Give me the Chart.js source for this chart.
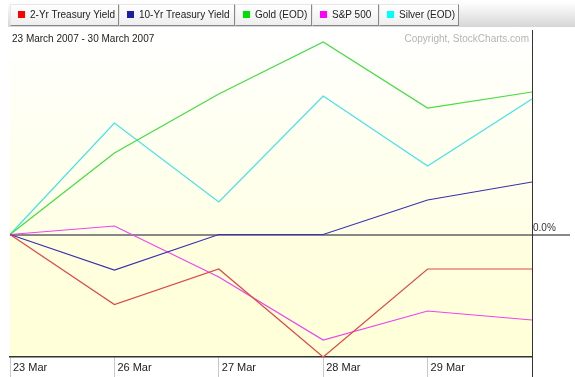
<!DOCTYPE html>
<html>
<head>
<meta charset="utf-8">
<script src="https://cdn.jsdelivr.net/npm/chart.js@4/dist/chart.umd.min.js"></script>
<style>
  body { margin: 0; background: #fff; font-family: Arial, "Liberation Sans", sans-serif; }
  #wrap { position: relative; width: 575px; height: 377px; overflow: hidden; }
  #chart { position: absolute; left: 0; top: 0; }
  #bar { position: absolute; left: 8px; top: 2px; width: 567px; height: 25px;
         background: linear-gradient(to bottom, #ffffff, #d6d6d6); }
  .tab { position: absolute; top: 2px; height: 22px; box-sizing: border-box;
         background: linear-gradient(to bottom, #ffffff, #eeeeee);
         border: 1px solid #e8e8e8; border-right-color: #888; border-bottom-color: #888;
         font-size: 10px; color: #222; line-height: 20px; white-space: nowrap; }
  .tab i { display: inline-block; width: 7px; height: 7px; margin: 0 5px 0 7px; vertical-align: 0px; }
  .note { position: absolute; top: 33px; font-size: 10px; line-height: 12px; white-space: nowrap; }
</style>
</head>
<body>
<div id="wrap">
  <canvas id="chart" width="575" height="377"></canvas>
  <div id="bar"></div>
  <div class="note" style="left:12px;color:#222">23 March 2007 - 30 March 2007</div>
  <div class="note" style="right:46px;color:#b4b4b4">Copyright, StockCharts.com</div>
</div>
<script>
  const labels = ["23 Mar", "26 Mar", "27 Mar", "28 Mar", "29 Mar", "30 Mar"];
  const seriesNames = ["2-Yr Treasury Yield", "10-Yr Treasury Yield", "Gold (EOD)", "S&P 500", "Silver (EOD)"];
  const lineColors = ["#e04848", "#3a32b0", "#44dd44", "#ee44ee", "#44e4e4"];
  const swatchColors = ["#ff0000", "#1e1ea0", "#00e000", "#ff00ff", "#00ffff"];

  // percent change vs 23 Mar
  const twoYr  = [0, -0.70, -0.345, -1.225, -0.345, -0.345];
  const tenYr  = [0, -0.355, 0, 0, 0.345, 0.525];
  const gold   = [0, 0.815, 1.405, 1.925, 1.265, 1.425];
  const spx    = [0, 0.085, -0.425, -1.055, -0.765, -0.855];
  const silver = [0, 1.115, 0.325, 1.385, 0.685, 1.355];
  const yTicks = [0];

  // legend tabs
  const tabLeft = [2, 111, 227, 304, 371];
  const tabWidth = [109, 116, 77, 67, 80];
  const bar = document.getElementById("bar");
  seriesNames.forEach((name, i) => {
    const t = document.createElement("div");
    t.className = "tab";
    t.style.left = tabLeft[i] + "px";
    t.style.width = tabWidth[i] + "px";
    t.innerHTML = '<i style="background:' + swatchColors[i] + '"></i>';
    t.appendChild(document.createTextNode(name));
    bar.appendChild(t);
  });

  const plotBg = {
    id: "plotBg",
    beforeDraw(chart) {
      const { ctx, chartArea: a, scales } = chart;
      const zero = scales.y.getPixelForValue(0);
      const g = ctx.createLinearGradient(0, a.top, 0, a.bottom);
      const z = (zero - a.top) / (a.bottom - a.top);
      g.addColorStop(0, "#ffffff");
      g.addColorStop(z * 0.45, "#fffff2");
      g.addColorStop(z, "#ffffe6");
      g.addColorStop(z + 0.001, "#ffffe0");
      g.addColorStop(1, "#ffffd8");
      ctx.save();
      ctx.fillStyle = g;
      ctx.fillRect(a.left, a.top, a.right - a.left, a.bottom - a.top);
      ctx.restore();
    }
  };

  const allSeries = [twoYr, tenYr, gold, spx, silver];

  new Chart(document.getElementById("chart"), {
    type: "line",
    data: {
      labels,
      datasets: allSeries.map((d, i) => ({
        label: seriesNames[i],
        data: d,
        borderColor: lineColors[i],
        borderWidth: 1.2,
        pointRadius: 0,
        tension: 0
      }))
    },
    options: {
      responsive: false,
      animation: false,
      layout: { padding: { left: 10, top: 30, right: 0, bottom: 0 } },
      plugins: { legend: { display: false }, tooltip: { enabled: false } },
      scales: {
        x: {
          type: "category",
          offset: false,
          afterFit: s => { s.height = 20; },
          grid: {
            drawOnChartArea: false,
            tickLength: 20,
            color: ctx => (ctx.index === labels.length - 1 ? "#333" : "#c8c8c8")
          },
          border: { display: true, color: "#333", width: 1.5 },
          ticks: {
            autoSkip: false,
            maxRotation: 0,
            align: "start",
            labelOffset: 3,
            padding: -16,
            color: "#222",
            font: { family: "Arial, 'Liberation Sans'", size: 11 },
            callback: (v, i) => (i === labels.length - 1 ? "" : labels[i])
          }
        },
        y: {
          position: "right",
          min: -1.225,
          max: 2.045,
          afterFit: s => { s.width = 43; },
          afterBuildTicks: s => { s.ticks = yTicks.map(v => ({ value: v })); },
          grid: { color: "#888", lineWidth: 2, tickLength: 38 },
          border: { display: true, color: "#333", width: 1 },
          ticks: {
            padding: -37,
            labelOffset: -6,
            color: "#333",
            font: { family: "Arial, 'Liberation Sans'", size: 10 },
            callback: v => v.toFixed(1) + "%"
          }
        }
      }
    },
    plugins: [plotBg]
  });
</script>
</body>
</html>
